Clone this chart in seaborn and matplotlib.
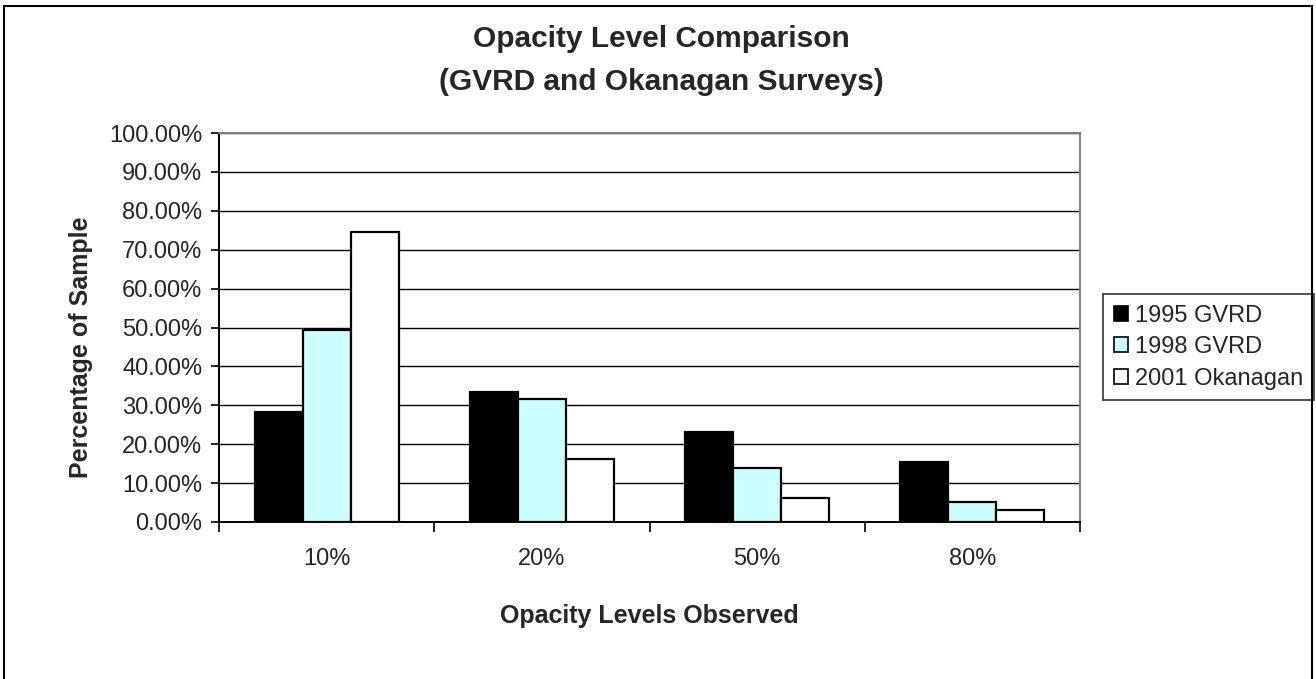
import matplotlib
matplotlib.use("Agg")
import matplotlib.pyplot as plt
import matplotlib.ticker as mticker
from matplotlib.patches import Rectangle
import numpy as np
import pandas as pd
import seaborn as sns

# Opacity levels observed and share of each survey sample (%)
opacity_levels = ["10%", "20%", "50%", "80%"]
surveys = ["1995 GVRD", "1998 GVRD", "2001 Okanagan"]
gvrd_1995 = [28.3, 33.4, 23.2, 15.4]
gvrd_1998 = [49.3, 31.6, 13.8, 5.1]
okanagan_2001 = [74.5, 16.3, 6.1, 3.0]
survey_colors = ["#000000", "#CCFFFF", "#FFFFFF"]

df = pd.DataFrame({
    "level": opacity_levels * 3,
    "survey": np.repeat(surveys, len(opacity_levels)),
    "pct": gvrd_1995 + gvrd_1998 + okanagan_2001,
})

sns.set_theme(style="white")
plt.rcParams["font.family"] = ["Liberation Sans", "DejaVu Sans"]

fig = plt.figure(figsize=(13.16, 6.79), dpi=100)
ax = fig.add_axes([219 / 1316, 1 - 522 / 679, (1080 - 219) / 1316, (522 - 133) / 679])

sns.barplot(data=df, x="level", y="pct", hue="survey", order=opacity_levels,
            hue_order=surveys, palette=survey_colors, width=0.67,
            edgecolor="black", linewidth=1.6, saturation=1, ax=ax, zorder=3)

# Axis ranges and gridlines
ax.set_ylim(0, 100)
ax.set_xlim(-0.5, len(opacity_levels) - 0.5)
ax.set_yticks(np.arange(0, 101, 10))
ax.yaxis.set_major_formatter(mticker.FuncFormatter(lambda v, p: f"{v:.2f}%"))
ax.yaxis.grid(True, color="black", linewidth=1.0, zorder=0)
ax.set_axisbelow(True)

# Category boundary ticks on the x axis
ax.set_xticks(np.arange(-0.5, len(opacity_levels), 1.0), minor=True)
ax.tick_params(axis="x", which="major", length=0, pad=19, labelsize=17)
ax.tick_params(axis="x", which="minor", length=7, width=1.2, color="black",
               direction="out", bottom=True)
ax.tick_params(axis="y", which="major", length=6, width=1.2, color="black",
               direction="out", left=True, labelsize=17, pad=6)

for side in ("left", "bottom"):
    ax.spines[side].set_color("black")
    ax.spines[side].set_linewidth(1.4)
for side in ("top", "right"):
    ax.spines[side].set_visible(True)
    ax.spines[side].set_color("#808080")
    ax.spines[side].set_linewidth(1.4)

ax.set_xlabel("Opacity Levels Observed", fontsize=18, fontweight="bold")
ax.set_ylabel("Percentage of Sample", fontsize=18, fontweight="bold")
ax.yaxis.set_label_coords(-0.146, 0.45)
ax.xaxis.set_label_coords(0.5, -0.21)

fig.suptitle("Opacity Level Comparison\n(GVRD and Okanagan Surveys)",
             fontsize=21.5, fontweight="bold", y=1 - 25 / 679, va="top",
             x=661 / 1316, linespacing=1.7)

# Legend at right
handles, labels = ax.get_legend_handles_labels()
leg = ax.legend(handles, labels, loc="upper left",
                bbox_to_anchor=(1103 / 1316, 1 - 294 / 679),
                bbox_transform=fig.transFigure, borderaxespad=0,
                fontsize=17, frameon=True, fancybox=False, edgecolor="black",
                handlelength=0.6, handleheight=0.6, handletextpad=0.3,
                labelspacing=0.4, borderpad=0.45)
leg.get_frame().set_linewidth(1.2)
for h in leg.legend_handles:
    h.set_edgecolor("black")
    h.set_linewidth(1.2)

# Chart border
fig.patches.append(Rectangle((4 / 1316, -0.05), 1308 / 1316, 1.05 - 6 / 679,
                             transform=fig.transFigure, fill=False,
                             edgecolor="black", linewidth=1.5, zorder=10))

fig.savefig("out.png", dpi=100, facecolor="white")
